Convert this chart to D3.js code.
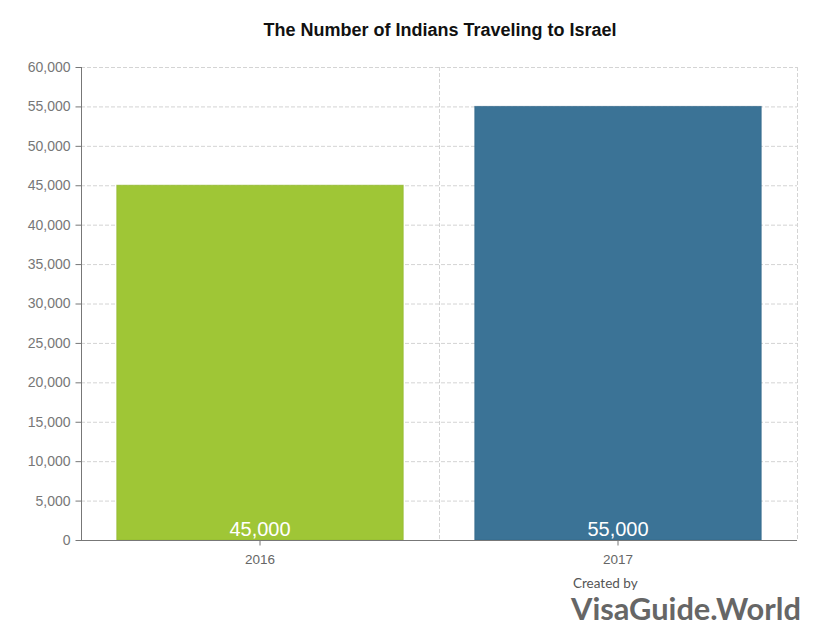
<!DOCTYPE html>
<html><head><meta charset="utf-8">
<script src="https://cdn.jsdelivr.net/npm/d3@7"></script>
<style>body{margin:0;background:#fff;}svg{display:block;font-family:Arial,"Liberation Sans",sans-serif;}</style>
</head><body><svg id="c" width="839" height="641"></svg>
<script>
const categories = ["2016", "2017"];
const values = [45000, 55000];
const valueLabels = ["45,000", "55,000"];
const barColors = ["#9dc532", "#377094"];
const yTicks = [0,5000,10000,15000,20000,25000,30000,35000,40000,45000,50000,55000,60000];

const svg = d3.select("#c");
const m = {l:81, r:797, t:67, b:540};
const x = d3.scaleBand().domain(categories).range([m.l, m.r]).paddingInner(0.2).paddingOuter(0.1);
const xg = d3.scaleBand().domain(categories).range([m.l, m.r]);
const y = d3.scaleLinear().domain([0, 60000]).range([m.b, m.t]);

svg.append("text").attr("x", 440).attr("y", 36).attr("text-anchor","middle")
  .attr("font-size", 18).attr("font-weight","bold").attr("fill","#111").text("The Number of Indians Traveling to Israel");

// grid
const grid = svg.append("g");
grid.selectAll("line.h").data(yTicks.slice(1)).join("line")
  .attr("x1", m.l).attr("x2", m.r).attr("y1", d=>y(d)+0.5).attr("y2", d=>y(d)+0.5)
  .attr("stroke","#d4d4d4").attr("stroke-dasharray","4,2");
grid.selectAll("line.v").data(categories.slice(1).map(c=>xg(c)).concat([m.r])).join("line")
  .attr("x1", d=>d+0.5).attr("x2", d=>d+0.5).attr("y1", m.t).attr("y2", m.b)
  .attr("stroke","#d4d4d4").attr("stroke-dasharray","4,2");

// bars
svg.selectAll("rect.bar").data(values).join("rect").attr("class","bar")
  .attr("x",(d,i)=>x(categories[i])).attr("width", x.bandwidth())
  .attr("y", d=>y(d)).attr("height", d=>m.b - y(d))
  .attr("fill",(d,i)=>barColors[i]).attr("fill-opacity",0.98)
  .attr("stroke",(d,i)=>d3.color(barColors[i]).darker(0.2)).attr("stroke-opacity",0.7).attr("stroke-width",1);

// value labels
svg.selectAll("text.v").data(values).join("text")
  .attr("x",(d,i)=>x(categories[i])+x.bandwidth()/2).attr("y", m.b-4)
  .attr("text-anchor","middle").attr("font-size",20).attr("fill","#fff")
  .text((d,i)=>valueLabels[i]);

// y axis
const ya = svg.append("g").attr("transform",`translate(${m.l+0.5},0)`)
  .call(d3.axisLeft(y).tickValues(yTicks).tickSize(6).tickPadding(5).tickFormat(d3.format(",")));
ya.select(".domain").attr("stroke","#777").attr("d",`M0,${m.t}V${m.b}`);
ya.selectAll(".tick line").attr("stroke","#777");
ya.selectAll("text").attr("fill","#777").attr("font-size",14).attr("font-family","Arial,'Liberation Sans',sans-serif");

// x axis
const xa = svg.append("g").attr("transform",`translate(0,${m.b+0.5})`)
  .call(d3.axisBottom(x).tickSize(5).tickPadding(9));
xa.select(".domain").attr("stroke","#777").attr("d",`M${m.l},0H${m.r}`);
xa.selectAll(".tick line").attr("stroke","#777");
xa.selectAll("text").attr("fill","#666").attr("font-size",13.5).attr("font-family","Arial,'Liberation Sans',sans-serif");

// watermark
svg.append("text").attr("x",573).attr("y",588).attr("font-family","Lato").attr("font-size",13.5).attr("fill","#555").text("Created by");
svg.append("text").attr("x",571).attr("y",620).attr("font-family","Lato").attr("font-weight","bold").attr("font-size",30.8).attr("fill","#666").text("VisaGuide.World");
</script></body></html>
